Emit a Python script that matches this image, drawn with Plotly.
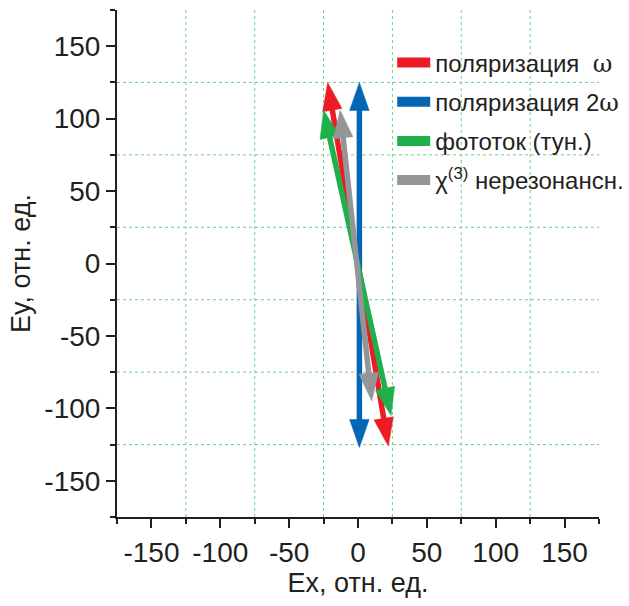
import math
import plotly.graph_objects as go

# ---------------- data ----------------
names = ["поляризация\u00a0\u00a0<span style='font-family:DejaVu Serif'>ω</span>",
         "поляризация 2<span style='font-family:DejaVu Serif'>ω</span>",
         "фототок (тун.)",
         "χ<sup>(3)</sup> нерезонансн."]
colors = ["#ED1C24", "#0566B3", "#1DB04B", "#939598"]
x_start = [-22, 1, -25, -13]
y_start = [125, 125, 106, 106]
x_end = [22, 1, 24, 10]
y_end = [-126, -127, -105, -95]

major_ticks = [-150, -100, -50, 0, 50, 100, 150]
minor_ticks = [-175, -125, -75, -25, 25, 75, 125, 175]
grid_vals = [-125, -75, -25, 25, 75, 125]
RANGE = [-175, 175]

# ---------------- layout constants ----------------
W, H = 629, 606
ML, MR, MT, MB = 117, 30, 10, 89
PW, PH = W - ML - MR, H - MT - MB
SX = PW / (RANGE[1] - RANGE[0])  # px per unit x
SY = PH / (RANGE[1] - RANGE[0])  # px per unit y
HEAD_L, HEAD_W = 28.0, 9.8
SHAFT_W = 5.5

fig = go.Figure()


def head(tip, tail):
    # tip/tail in data units; geometry computed in pixel space
    tx, ty = tip[0] * SX, tip[1] * SY
    bx, by = tail[0] * SX, tail[1] * SY
    dx, dy = tx - bx, ty - by
    n = math.hypot(dx, dy)
    ux, uy = dx / n, dy / n
    px, py = -uy, ux
    cx, cy = tx - ux * HEAD_L, ty - uy * HEAD_L
    pts = [(tx, ty), (cx + px * HEAD_W, cy + py * HEAD_W), (cx - px * HEAD_W, cy - py * HEAD_W), (tx, ty)]
    base = (tx - ux * HEAD_L * 0.85, ty - uy * HEAD_L * 0.85)
    return [p[0] / SX for p in pts], [p[1] / SY for p in pts], (base[0] / SX, base[1] / SY)


for i in range(len(names)):
    a = (x_start[i], y_start[i])
    b = (x_end[i], y_end[i])
    hx1, hy1, base1 = head(a, b)
    hx2, hy2, base2 = head(b, a)
    fig.add_trace(go.Scatter(x=[base1[0], base2[0]], y=[base1[1], base2[1]], mode="lines",
                             line=dict(color=colors[i], width=SHAFT_W), showlegend=False, hoverinfo="skip"))
    for hx, hy in ((hx1, hy1), (hx2, hy2)):
        fig.add_trace(go.Scatter(x=hx, y=hy, mode="lines", fill="toself", fillcolor=colors[i],
                                 line=dict(color=colors[i], width=0.5), showlegend=False, hoverinfo="skip"))

for i in range(len(names)):
    fig.add_trace(go.Scatter(x=[None], y=[None], mode="lines", name=names[i],
                             line=dict(color=colors[i], width=11), legendgroup=str(i)))

for g in grid_vals:
    fig.add_shape(type="line", xref="x", yref="y", x0=g, x1=g, y0=RANGE[0], y1=RANGE[1],
                  line=dict(color="#6FD08C", width=1, dash="dot"), layer="below")
    fig.add_shape(type="line", xref="x", yref="y", y0=g, y1=g, x0=RANGE[0], x1=RANGE[1],
                  line=dict(color="#6FD08C", width=1, dash="dot"), layer="below")

FONT = "Liberation Sans, Arial"
axis_common = dict(
    range=RANGE, showgrid=False, zeroline=False, showline=True, linecolor="#231F20", linewidth=2,
    tickmode="array", tickvals=major_ticks, ticktext=[str(v) for v in major_ticks],
    ticks="outside", ticklen=9, tickwidth=2, tickcolor="#231F20",
    tickfont=dict(family=FONT, size=28, color="#231F20"),
    minor=dict(tickmode="array", tickvals=minor_ticks, ticks="outside", ticklen=5, tickwidth=2,
               tickcolor="#231F20", showgrid=False),
)

fig.update_xaxes(**axis_common, automargin=False, title=dict(text="Ex, отн. ед.", standoff=0,
                 font=dict(family=FONT, size=27, color="#231F20")))
fig.update_yaxes(**axis_common, automargin=False, title=dict(text="Ey, отн. ед.", standoff=6,
                 font=dict(family=FONT, size=27, color="#231F20")))

fig.update_layout(
    width=W, height=H, margin=dict(l=ML, r=MR, t=MT, b=MB, autoexpand=False),
    plot_bgcolor="white", paper_bgcolor="white",
    legend=dict(x=0.571, y=0.94, xanchor="left", yanchor="top", bgcolor="rgba(0,0,0,0)",
                font=dict(family=FONT, size=24, color="#231F20"), itemwidth=33,
                traceorder="grouped", tracegroupgap=5),
)

fig.write_html("out.html")
